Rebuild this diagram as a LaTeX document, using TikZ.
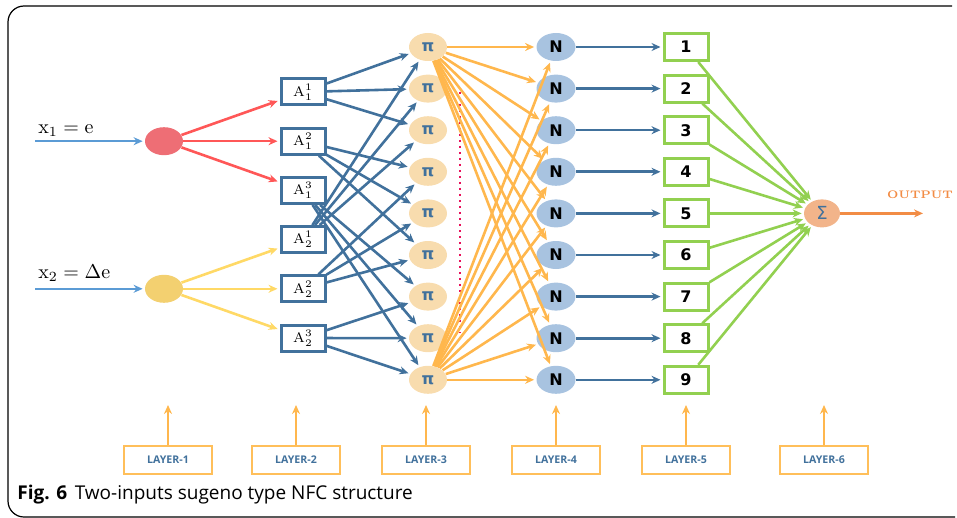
\documentclass[tikz,border=0pt]{standalone}
\usepackage{fontspec}
\usepackage{amsmath}
\newfontfamily\dejavu{DejaVu Sans}
\newfontfamily\opensans{Open Sans}
\usetikzlibrary{positioning,shapes.geometric,arrows.meta}

\definecolor{blueedge}{HTML}{41719C}
\definecolor{inblue}{HTML}{5B9BD5}
\definecolor{rededge}{HTML}{FF5757}
\definecolor{yellowedge}{HTML}{FFD966}
\definecolor{orangeedge}{HTML}{FFB74D}
\definecolor{greenedge}{HTML}{92D050}
\definecolor{pifill}{HTML}{F8DCAE}
\definecolor{nfill}{HTML}{A8C3E0}
\definecolor{sumfill}{HTML}{F2B48A}
\definecolor{redfill}{HTML}{EE6E75}
\definecolor{yellowfill}{HTML}{F3D070}
\definecolor{outorange}{HTML}{F28C45}
\definecolor{layerorange}{HTML}{FFBF5A}
\definecolor{dotred}{HTML}{E8105A}

\begin{document}
\begin{tikzpicture}[x=0.5pt,y=-0.5pt,->,>={Stealth[length=4.5pt,width=4pt]},shorten >=1pt,node distance=20.8pt,on grid,
      pi node/.style={ellipse,fill=pifill,minimum width=19pt,minimum height=14pt,inner sep=0pt,
        text=blueedge,font=\dejavu\bfseries\fontsize{8}{8}\selectfont},
      n node/.style={ellipse,fill=nfill,minimum width=19.5pt,minimum height=14pt,inner sep=0pt,
        font=\dejavu\bfseries\fontsize{8}{8}\selectfont},
      mf box/.style={rectangle,draw=blueedge,line width=1.5pt,fill=white,minimum width=22pt,
        minimum height=13pt,inner sep=0pt,font=\fontsize{7}{7}\selectfont},
      rule box/.style={rectangle,draw=greenedge,line width=1.5pt,fill=white,minimum width=22pt,
        minimum height=13.5pt,inner sep=0pt,font=\dejavu\bfseries\fontsize{8}{8}\selectfont},
      layer box/.style={rectangle,draw=layerorange,line width=1pt,minimum width=44pt,
        minimum height=14pt,inner sep=0pt,text=blueedge,font=\opensans\bfseries\fontsize{5.3}{5.3}\selectfont},
      in node/.style={ellipse,minimum width=19pt,minimum height=14pt,inner sep=0pt},
      in edge/.style={color=inblue,line width=1.2pt},
      red edge/.style={color=rededge,line width=1.3pt},
      yellow edge/.style={color=yellowedge,line width=1.3pt},
      blue edge/.style={color=blueedge,line width=1.3pt},
      orange edge/.style={color=orangeedge,line width=1.3pt},
      green edge/.style={color=greenedge,line width=1.3pt},
      layer edge/.style={color=orangeedge,line width=1.1pt}]
      \useasboundingbox (0,0) rectangle (957,518);
      \draw[-,line width=0.6pt,rounded corners=8pt] (952,6) -- (8,6) -- (8,517) -- (957,517);

      % layer 3: rule nodes
      \node[pi node] (p1) at (428,47) {π};
      \node[pi node] (p2) [below=of p1] {π};
      \node[pi node] (p3) [below=of p2] {π};
      \node[pi node] (p4) [below=of p3] {π};
      \node[pi node] (p5) [below=of p4] {π};
      \node[pi node] (p6) [below=of p5] {π};
      \node[pi node] (p7) [below=of p6] {π};
      \node[pi node] (p8) [below=of p7] {π};
      \node[pi node] (p9) [below=of p8] {π};

      % layer 4: normalisation
      \node[n node] (n1) [right=64pt of p1] {N};
      \node[n node] (n2) [right=64pt of p2] {N};
      \node[n node] (n3) [right=64pt of p3] {N};
      \node[n node] (n4) [right=64pt of p4] {N};
      \node[n node] (n5) [right=64pt of p5] {N};
      \node[n node] (n6) [right=64pt of p6] {N};
      \node[n node] (n7) [right=64pt of p7] {N};
      \node[n node] (n8) [right=64pt of p8] {N};
      \node[n node] (n9) [right=64pt of p9] {N};

      % layer 5
      \node[rule box] (r1) [right=65pt of n1] {1};
      \node[rule box] (r2) [right=65pt of n2] {2};
      \node[rule box] (r3) [right=65pt of n3] {3};
      \node[rule box] (r4) [right=65pt of n4] {4};
      \node[rule box] (r5) [right=65pt of n5] {5};
      \node[rule box] (r6) [right=65pt of n6] {6};
      \node[rule box] (r7) [right=65pt of n7] {7};
      \node[rule box] (r8) [right=65pt of n8] {8};
      \node[rule box] (r9) [right=65pt of n9] {9};

      % layer 6
      \node[ellipse,fill=sumfill,minimum width=18pt,minimum height=14pt,inner sep=0pt,
        text=blueedge,font=\dejavu\fontsize{9}{9}\selectfont] (sum) [right=68pt of r5] {Σ};
      \coordinate[right=51.5pt of sum] (out);
      \node[text=outorange,font=\bfseries\fontsize{5.5}{5.5}\selectfont] (outlbl) at (920,195) {OUTPUT};

      % layer 2: membership functions
      \node[mf box] (a11) at (303,92) {$\mathrm{A}_{\scriptscriptstyle 1}^{\scriptscriptstyle 1}$};
      \node[mf box] (a12) [below=24.6pt of a11] {$\mathrm{A}_{\scriptscriptstyle 1}^{\scriptscriptstyle 2}$};
      \node[mf box] (a13) [below=24.6pt of a12] {$\mathrm{A}_{\scriptscriptstyle 1}^{\scriptscriptstyle 3}$};
      \node[mf box] (a21) [below=24.6pt of a13] {$\mathrm{A}_{\scriptscriptstyle 2}^{\scriptscriptstyle 1}$};
      \node[mf box] (a22) [below=24.6pt of a21] {$\mathrm{A}_{\scriptscriptstyle 2}^{\scriptscriptstyle 2}$};
      \node[mf box] (a23) [below=24.6pt of a22] {$\mathrm{A}_{\scriptscriptstyle 2}^{\scriptscriptstyle 3}$};

      % layer 1: inputs
      \node[in node,fill=redfill] (i1) [left=69.5pt of a12] {};
      \node[in node,fill=yellowfill] (i2) [left=69.5pt of a22] {};
      \coordinate[left=64.5pt of i1] (x1);
      \coordinate[left=64.5pt of i2] (x2);
      \node[anchor=west,inner sep=0pt] (lx1) at (38,131) {$\mathrm{x}_1 = \mathrm{e}$};
      \node[anchor=west,inner sep=0pt] (lx2) at (38,273) {$\mathrm{x}_2 = \Delta\mathrm{e}$};

      % layer labels
      \node[layer box] (l1) at (168,460) {LAYER-1};
      \node[layer box] (l2) [right=64pt of l1] {LAYER-2};
      \node[layer box] (l3) [right=65pt of l2] {LAYER-3};
      \node[layer box] (l4) [right=65pt of l3] {LAYER-4};
      \node[layer box] (l5) [right=65pt of l4] {LAYER-5};
      \node[layer box] (l6) [right=69pt of l5] {LAYER-6};
      \coordinate[above=28.5pt of l1] (t1);
      \coordinate[above=28.5pt of l2] (t2);
      \coordinate[above=28.5pt of l3] (t3);
      \coordinate[above=28.5pt of l4] (t4);
      \coordinate[above=28.5pt of l5] (t5);
      \coordinate[above=28.5pt of l6] (t6);

      \node[anchor=west,inner sep=0pt,font=\opensans\fontsize{9.5}{10}\selectfont] (cap) at (17,495)
        {\textbf{Fig. 6}\hspace{0.4em}Two-inputs sugeno type NFC structure};

      \draw[-,dotted,line width=1pt,dotred] (460,92) -- (460,335);

      \path[in edge]
        (x1) edge (i1)
        (x2) edge (i2);
      \path[red edge]
        (i1) edge (a11) edge (a12) edge (a13);
      \path[yellow edge]
        (i2) edge (a21) edge (a22) edge (a23);

      \path[blue edge]
        (a11) edge (p1) edge (p2) edge (p3)
        (a12) edge (p4) edge (p5) edge (p6)
        (a13) edge (p7) edge (p8) edge (p9)
        (a21) edge (p1) edge (p2) edge (p3)
        (a22) edge (p4) edge (p5) edge (p6)
        (a23) edge (p7) edge (p8) edge (p9);

      \path[orange edge]
        (p1) edge (n1) edge (n2) edge (n3) edge (n4) edge (n5) edge (n6) edge (n7) edge (n8) edge (n9)
        (p9) edge (n1) edge (n2) edge (n3) edge (n4) edge (n5) edge (n6) edge (n7) edge (n8) edge (n9);

      \path[blue edge]
        (n1) edge (r1) (n2) edge (r2) (n3) edge (r3)
        (n4) edge (r4) (n5) edge (r5) (n6) edge (r6)
        (n7) edge (r7) (n8) edge (r8) (n9) edge (r9);

      \path[green edge]
        (r1) edge (sum) (r2) edge (sum) (r3) edge (sum)
        (r4) edge (sum) (r5) edge (sum) (r6) edge (sum)
        (r7) edge (sum) (r8) edge (sum) (r9) edge (sum);

      \draw[color=outorange,line width=1.3pt] (sum) -- (out);

      \path[layer edge]
        (l1) edge (t1) (l2) edge (t2) (l3) edge (t3)
        (l4) edge (t4) (l5) edge (t5) (l6) edge (t6);
    \end{tikzpicture}
\end{document}
